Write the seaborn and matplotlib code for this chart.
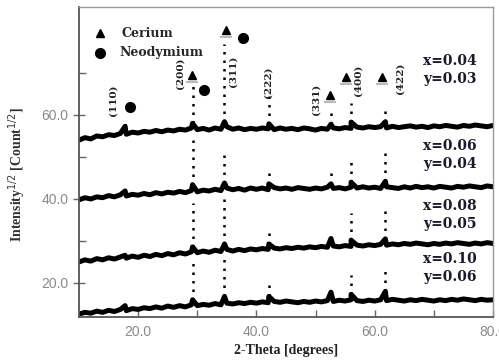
import numpy as np
import pandas as pd
import matplotlib
matplotlib.use("Agg")
import matplotlib.pyplot as plt
import seaborn as sns
from matplotlib.ticker import FixedLocator, FormatStrFormatter

# ---------------- data ----------------
two_theta = list(range(10, 81))

base_004 = [54.0, 54.6, 54.3, 55.0, 54.8, 55.3, 55.1, 55.6, 55.4, 55.9,
            55.7, 56.1, 55.9, 56.3, 56.0, 56.4, 56.2, 56.6, 56.4, 56.9,
            56.5, 56.8, 56.4, 56.9, 56.6, 57.2, 56.6, 56.9, 56.5, 56.8,
            56.6, 56.9, 56.7, 56.5, 56.9, 56.6, 56.8, 56.5, 56.9, 56.7,
            56.4, 56.8, 56.6, 56.9, 56.7, 57.0, 56.8, 57.1, 56.9, 57.2,
            57.0, 57.2, 56.9, 57.3, 57.0, 57.2, 57.4, 57.1, 57.3, 57.0,
            57.4, 57.2, 57.5, 57.3, 57.1, 57.5, 57.3, 57.6, 57.4, 57.2, 57.5]
base_006 = [39.8, 40.3, 40.0, 40.5, 40.3, 40.8, 40.5, 41.0, 40.7, 41.1,
            40.9, 41.3, 41.0, 41.5, 41.2, 41.6, 41.4, 41.8, 41.5, 42.0,
            41.7, 42.1, 41.9, 42.3, 42.0, 42.6, 42.2, 42.5, 42.1, 42.6,
            42.3, 42.6, 42.2, 42.7, 42.4, 42.6, 42.3, 42.7, 42.5, 42.3,
            42.6, 42.4, 42.8, 42.5, 42.7, 42.4, 42.8, 42.6, 42.9, 42.6,
            42.8, 42.5, 42.9, 42.7, 42.5, 42.9, 42.6, 43.0, 42.7, 42.9,
            42.6, 43.0, 42.8, 42.6, 43.0, 42.8, 43.1, 42.9, 42.7, 43.1, 42.9]
base_008 = [25.0, 25.5, 25.2, 25.8, 25.5, 26.0, 25.7, 26.2, 25.9, 26.4,
            26.1, 26.6, 26.3, 26.8, 26.5, 27.0, 26.7, 27.2, 26.9, 27.4,
            27.2, 27.6, 27.3, 27.8, 27.5, 28.0, 27.6, 28.0, 27.7, 28.1,
            27.9, 28.2, 28.0, 28.3, 28.1, 28.4, 28.2, 28.5, 28.3, 28.6,
            28.4, 28.7, 28.5, 28.8, 28.6, 28.9, 28.7, 29.0, 28.8, 29.1,
            28.9, 29.2, 29.0, 29.3, 29.1, 29.4, 29.2, 29.5, 29.3, 29.1,
            29.4, 29.2, 29.5, 29.3, 29.6, 29.4, 29.2, 29.5, 29.3, 29.6, 29.4]
base_010 = [12.6, 13.0, 12.8, 13.3, 13.0, 13.5, 13.2, 13.7, 13.4, 13.9,
            13.7, 14.1, 13.9, 14.3, 14.0, 14.5, 14.2, 14.6, 14.3, 14.8,
            14.6, 14.9, 14.7, 15.1, 14.8, 15.2, 15.0, 15.3, 15.1, 15.4,
            15.2, 15.5, 15.3, 15.6, 15.4, 15.7, 15.5, 15.3, 15.6, 15.4,
            15.7, 15.5, 15.8, 15.6, 15.9, 15.7, 16.0, 15.8, 15.6, 15.9,
            15.7, 16.0, 15.8, 16.1, 15.9, 15.7, 16.0, 15.8, 16.1, 15.9,
            15.7, 16.0, 15.8, 16.1, 15.9, 16.2, 16.0, 15.8, 16.1, 15.9, 16.0]

peak_pos = [17.8, 29.2, 34.6, 42.1, 52.6, 56.0, 61.8]
bump_004 = [57.3, 58.0, 58.4, 57.9, 57.8, 58.3, 58.4]
bump_006 = [41.9, 43.4, 43.8, 43.6, 43.6, 44.0, 44.2]
bump_008 = [26.6, 28.6, 29.3, 29.3, 30.6, 30.2, 30.5]
bump_010 = [14.6, 16.0, 16.8, 16.8, 17.8, 17.3, 18.0]
spike_004 = [58.8, 68.0, 77.0, 64.8, 60.7, 62.9, 62.4]
spike_006 = [np.nan, 55.0, 51.0, 47.4, 46.2, 49.0, 52.0]
spike_008 = [np.nan, 39.0, 40.0, 33.4, np.nan, 36.7, 38.0]
spike_010 = [np.nan, 25.0, 26.0, 19.8, np.nan, 22.0, 23.6]

samples = ["x=0.04\ny=0.03", "x=0.06\ny=0.04", "x=0.08\ny=0.05", "x=0.10\ny=0.06"]
bases = [base_004, base_006, base_008, base_010]
bumps = [bump_004, bump_006, bump_008, bump_010]
spikes = [spike_004, spike_006, spike_008, spike_010]

rows = []
for s, b, p in zip(samples, bases, bumps):
    for x, y in zip(two_theta, b):
        rows.append((s, x, y))
    for x, y in zip(peak_pos, p):
        rows.append((s, x, y))
df = pd.DataFrame(rows, columns=["sample", "two_theta", "intensity"])

# ---------------- figure ----------------
sns.set_style("white")
plt.rcParams["font.family"] = ["Liberation Sans", "DejaVu Sans"]

fig = plt.figure(figsize=(4.99, 3.61), dpi=100)
ax = fig.add_axes([0.1583, 0.1219, 0.8297, 0.8587])

sns.lineplot(data=df, x="two_theta", y="intensity", units="sample",
             estimator=None, sort=True, color="black", lw=3.6, ax=ax,
             legend=False)

for b, sp in zip(bumps, spikes):
    for x, lo, hi in zip(peak_pos, b, sp):
        if not np.isnan(hi):
            ax.vlines(x, lo, hi, colors="black", linestyles=(0, (1, 2.4)), lw=1.8)

ax.set_xlim(10, 80)
ax.set_ylim(11.9, 85.7)

ax.xaxis.set_major_locator(FixedLocator([20, 40, 60, 80]))
ax.xaxis.set_minor_locator(FixedLocator([30, 50, 70]))
ax.yaxis.set_major_locator(FixedLocator([20, 40, 60]))
ax.yaxis.set_minor_locator(FixedLocator([30, 50, 70]))
ax.xaxis.set_major_formatter(FormatStrFormatter("%.1f"))
ax.yaxis.set_major_formatter(FormatStrFormatter("%.1f"))
ax.tick_params(axis="x", which="both", direction="in", length=5, width=1,
               colors="#666666", labelsize=10, labelcolor="#8a8a8a", pad=6,
               bottom=True)
ax.tick_params(axis="y", which="major", direction="inout", length=8, width=1,
               colors="#666666", labelsize=10, labelcolor="#8a8a8a", left=True)
ax.tick_params(axis="y", which="minor", direction="in", length=5, width=1,
               colors="#666666", left=True)

for side in ["left", "bottom"]:
    ax.spines[side].set_color("#555555")
    ax.spines[side].set_linewidth(1.3)
for side in ["top", "right"]:
    ax.spines[side].set_color("#999999")
    ax.spines[side].set_linewidth(1.0)

ax.set_xlabel("2-Theta [degrees]", family="Liberation Serif", weight="bold",
              fontsize=10, color="#222222")
ax.set_ylabel("Intensity$^{1/2}$ [Count$^{1/2}$]", family="Liberation Serif",
              weight="bold", fontsize=10, color="#333333")
ax.xaxis.set_label_coords(0.5, -0.087)
ax.yaxis.set_label_coords(-0.123, 0.46)

# legend-like markers
serif = "DejaVu Serif"
ax.plot([13.5], [79.5], marker="^", color="black", ms=6, ls="none")
ax.plot([13.5], [74.8], marker="o", color="black", ms=7, ls="none")
ax.text(17.2, 79.5, "Cerium", family=serif, weight="bold", fontsize=9,
        va="center", ha="left")
ax.text(16.9, 74.8, "Neodymium", family=serif, weight="bold", fontsize=9,
        va="center", ha="left")

tri_x = [29.1, 34.8, 52.4, 55.1, 61.3]
tri_y = [69.5, 80.2, 64.8, 69.0, 69.0]
cir_x = [18.6, 31.1, 37.7]
cir_y = [61.9, 66.0, 78.3]
ax.plot(tri_x, [v - 1.6 for v in tri_y], marker="_", color="#bbbbbb", ms=9,
        mew=1.5, ls="none")
ax.plot(tri_x, tri_y, marker="^", color="black", ms=6, ls="none")
ax.plot(cir_x, cir_y, marker="o", color="black", ms=7, ls="none")

hkl = ["(110)", "(200)", "(311)", "(222)", "(331)", "(400)", "(422)"]
hkl_x = [15.7, 27.1, 36.0, 42.0, 50.1, 57.1, 64.2]
hkl_y = [63.6, 70.0, 70.5, 67.9, 63.6, 68.3, 68.8]
for t, x, y in zip(hkl, hkl_x, hkl_y):
    ax.text(x, y, t, rotation=90, family=serif, weight="bold", fontsize=7.5,
            ha="center", va="center", color="#222222")

lab_y = [70.7, 50.5, 36.2, 23.6]
for s, y in zip(samples, lab_y):
    ax.text(77.3, y, s, family=serif, weight="bold", fontsize=10,
            ha="right", va="center", color="#1a1a2a", linespacing=1.35)

fig.savefig("out.png", dpi=100)
